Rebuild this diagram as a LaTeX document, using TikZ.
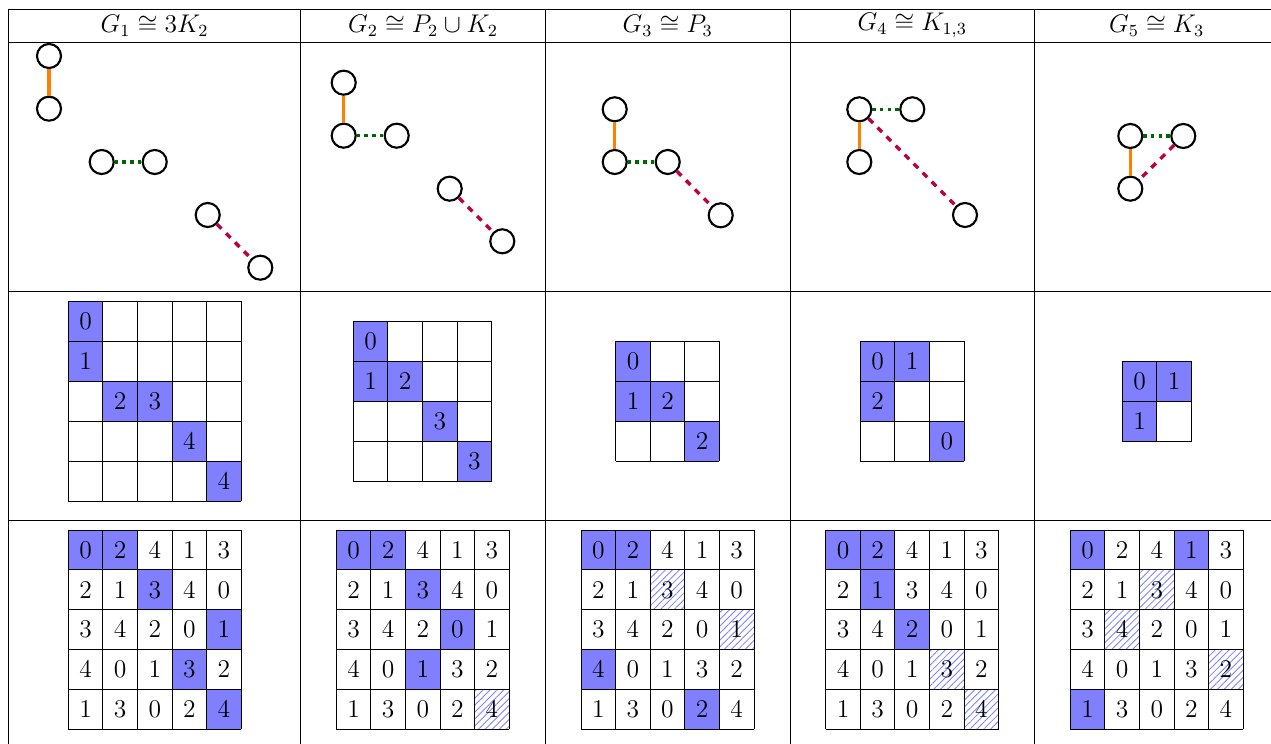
\documentclass[tikz,border=0pt]{standalone}
\usepackage{amsmath}
\usepackage{amssymb}
\usepackage{tikz}
\usetikzlibrary{patterns.meta}

\tikzset{
  vertex/.style={circle, draw, line width=1pt, fill=white, inner sep=0pt, minimum size=11.3pt},
  oedge/.style={orange, ultra thick},
  gedge/.style={green!40!black, ultra thick, dotted},
  pedge/.style={purple, ultra thick, dashed},
  hit/.style={fill=blue!50},
  hatch/.style={pattern={Lines[angle=45,distance=2.3pt,line width=0.4pt]}, pattern color=blue!50},
  num/.style={font=\fontsize{12}{14}\selectfont},
  head/.style={font=\fontsize{12}{14}\selectfont},
}
\newcommand{\latinrows}{0/{0,2,4,1,3},1/{2,1,3,4,0},2/{3,4,2,0,1},3/{4,0,1,3,2},4/{1,3,0,2,4}}

\begin{document}
\begin{tikzpicture}[x=0.47pt, y=-0.47pt]
    \useasboundingbox (0,0) rectangle (1271,744);
    %%Table
    \foreach \y in {9,42,291,520} \draw (8.5,\y) -- (1271,\y);
    \foreach \x in {8.5,300.7,545.3,790,1034.3} \draw (\x,9) -- (\x,744);
    %%Headers
    \node[head] (h1) at (154.6,25.5) {$G_1\cong 3K_2$};
    \node[head] (h2) at (423,25.5) {$G_2\cong P_2\cup K_2$};
    \node[head] (h3) at (667.7,25.5) {$G_3\cong P_3$};
    \node[head] (h4) at (912.2,25.5) {$G_4\cong K_{1,3}$};
    \node[head] (h5) at (1156.7,25.5) {$G_5\cong K_3$};
    %%Graphs
    \node[vertex] (a1) at (49,56) {};
    \node[vertex] (a2) at (49,108.7) {};
    \node[vertex] (a3) at (101.7,162) {};
    \node[vertex] (a4) at (154.7,162) {};
    \node[vertex] (a5) at (207.7,215) {};
    \node[vertex] (a6) at (260.3,267.7) {};
    \draw[oedge] (a1) -- (a2);
    \draw[gedge] (a3) -- (a4);
    \draw[pedge] (a5) -- (a6);
    \node[vertex] (b1) at (343.7,82.7) {};
    \node[vertex] (b2) at (343.7,135.7) {};
    \node[vertex] (b3) at (396.7,135.7) {};
    \node[vertex] (b4) at (449.7,188.7) {};
    \node[vertex] (b5) at (502.3,241.3) {};
    \draw[oedge] (b1) -- (b2);
    \draw[gedge] (b2) -- (b3);
    \draw[pedge] (b4) -- (b5);
    \node[vertex] (c1) at (614.7,109.3) {};
    \node[vertex] (c2) at (614.7,162) {};
    \node[vertex] (c3) at (667.7,162) {};
    \node[vertex] (c4) at (720.7,215.3) {};
    \draw[oedge] (c1) -- (c2);
    \draw[gedge] (c2) -- (c3);
    \draw[pedge] (c3) -- (c4);
    \node[vertex] (d1) at (859.3,109.3) {};
    \node[vertex] (d2) at (912.3,109.3) {};
    \node[vertex] (d3) at (859.3,162) {};
    \node[vertex] (d4) at (965,215) {};
    \draw[oedge] (d1) -- (d3);
    \draw[gedge] (d1) -- (d2);
    \draw[pedge] (d1) -- (d4);
    \node[vertex] (e1) at (1130.3,136) {};
    \node[vertex] (e2) at (1183.3,136) {};
    \node[vertex] (e3) at (1130.3,188.7) {};
    \draw[oedge] (e1) -- (e3);
    \draw[gedge] (e1) -- (e2);
    \draw[pedge] (e2) -- (e3);
    %%Colour classes
    \begin{scope}[shift={(68.3,301.5)}, x=16.26pt, y=-18.75pt]
        \foreach \c/\r in {0/0,0/1,1/2,2/2,3/3,4/4} \fill[hit] (\c,\r) rectangle ++(1,1);
        \foreach \c/\r/\v in {0/0/0,0/1/1,1/2/2,2/2/3,3/3/4,4/4/4}
            \node[num] (m1-\c-\r) at (\c+0.5,\r+0.5) {$\v$};
        \foreach \i in {0,...,5} {\draw (\i,0) -- (\i,5); \draw (0,\i) -- (5,\i);}
    \end{scope}
    \begin{scope}[shift={(353.3,321.5)}, x=16.26pt, y=-18.75pt]
        \foreach \c/\r in {0/0,0/1,1/1,2/2,3/3} \fill[hit] (\c,\r) rectangle ++(1,1);
        \foreach \c/\r/\v in {0/0/0,0/1/1,1/1/2,2/2/3,3/3/3}
            \node[num] (m2-\c-\r) at (\c+0.5,\r+0.5) {$\v$};
        \foreach \i in {0,...,4} {\draw (\i,0) -- (\i,4); \draw (0,\i) -- (4,\i);}
    \end{scope}
    \begin{scope}[shift={(615.7,341.5)}, x=16.26pt, y=-18.75pt]
        \foreach \c/\r in {0/0,0/1,1/1,2/2} \fill[hit] (\c,\r) rectangle ++(1,1);
        \foreach \c/\r/\v in {0/0/0,0/1/1,1/1/2,2/2/2}
            \node[num] (m3-\c-\r) at (\c+0.5,\r+0.5) {$\v$};
        \foreach \i in {0,...,3} {\draw (\i,0) -- (\i,3); \draw (0,\i) -- (3,\i);}
    \end{scope}
    \begin{scope}[shift={(860.3,341.5)}, x=16.26pt, y=-18.75pt]
        \foreach \c/\r in {0/0,1/0,0/1,2/2} \fill[hit] (\c,\r) rectangle ++(1,1);
        \foreach \c/\r/\v in {0/0/0,1/0/1,0/1/2,2/2/0}
            \node[num] (m4-\c-\r) at (\c+0.5,\r+0.5) {$\v$};
        \foreach \i in {0,...,3} {\draw (\i,0) -- (\i,3); \draw (0,\i) -- (3,\i);}
    \end{scope}
    \begin{scope}[shift={(1122.3,361.3)}, x=16.26pt, y=-18.75pt]
        \foreach \c/\r in {0/0,1/0,0/1} \fill[hit] (\c,\r) rectangle ++(1,1);
        \foreach \c/\r/\v in {0/0/0,1/0/1,0/1/1}
            \node[num] (m5-\c-\r) at (\c+0.5,\r+0.5) {$\v$};
        \foreach \i in {0,...,2} {\draw (\i,0) -- (\i,2); \draw (0,\i) -- (2,\i);}
    \end{scope}
    %%Latin squares
    \foreach \k/\x/\hits/\hatches in {
        1/68.3/{0/0,1/0,2/1,4/2,3/3,4/4}/{},
        2/336.3/{0/0,1/0,2/1,3/2,2/3}/{4/4},
        3/581/{0/0,1/0,0/3,3/4}/{2/1,4/2},
        4/825.7/{0/0,1/0,1/1,2/2}/{3/3,4/4},
        5/1070.3/{0/0,3/0,0/4}/{2/1,1/2,4/3}} {
        \begin{scope}[shift={(\x,530)}, x=16.26pt, y=-18.75pt]
            \foreach \c/\r in \hits \fill[hit] (\c,\r) rectangle ++(1,1);
            \foreach \c/\r in \hatches \fill[hatch] (\c,\r) rectangle ++(1,1);
            \foreach \r/\row in \latinrows
                \foreach \v [count=\c from 0] in \row
                    \node[num] (l\k-\c-\r) at (\c+0.5,\r+0.5) {$\v$};
            \foreach \i in {0,...,5} {\draw (\i,0) -- (\i,5); \draw (0,\i) -- (5,\i);}
        \end{scope}
    }
\end{tikzpicture}
\end{document}
